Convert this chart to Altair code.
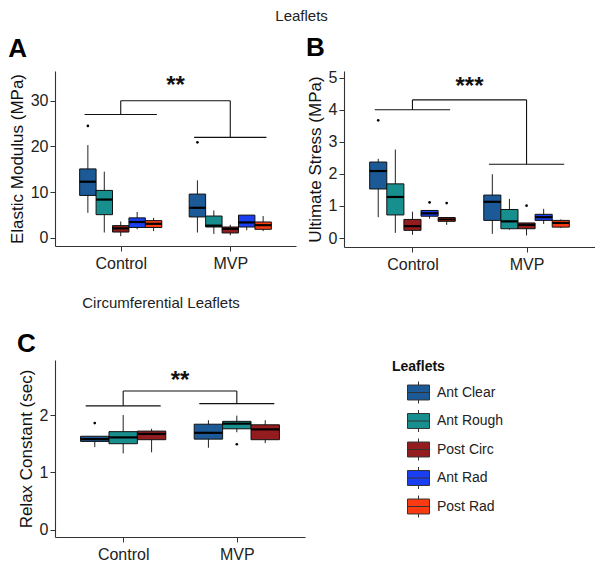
import altair as alt
import pandas as pd

groups = ["Control", "MVP"]
leaflets = ["Ant Clear", "Ant Rough", "Post Circ", "Ant Rad", "Post Rad"]
colors = ["#1c5a97", "#178f8e", "#931c1f", "#1a3ff2", "#fb3a12"]
circ_leaflets = ["Ant Clear", "Ant Rough", "Post Circ"]

# Panel A: Elastic Modulus (MPa) -- order: Control x5 leaflets, MVP x5 leaflets
a_low = [5.5, 1.2, 0.4, 1.9, 1.5, 1.2, 0.9, 0.6, 1.7, 1.5]
a_q1 = [9.3, 5.1, 1.3, 2.3, 2.3, 4.6, 2.4, 1.1, 2.4, 1.9]
a_med = [12.3, 8.4, 2.1, 3.5, 3.1, 6.6, 2.7, 2.0, 3.4, 2.8]
a_q3 = [15.1, 10.4, 2.7, 4.4, 3.8, 9.6, 4.8, 2.4, 5.0, 3.5]
a_high = [20.3, 14.5, 3.6, 5.7, 4.4, 12.6, 6.0, 2.9, 5.0, 4.8]
a_out_group = ["Control", "MVP"]
a_out_leaf = ["Ant Clear", "Ant Clear"]
a_out_val = [24.5, 20.9]
a_bracket = [27.0, 22.0, 30.0]   # control bar, MVP bar, top bar
a_star = ["**", 31.75]

# Panel B: Ultimate Stress (MPa)
b_low = [0.65, 0.16, 0.10, 0.60, 0.41, 0.13, 0.26, 0.08, 0.44, 0.31]
b_q1 = [1.53, 0.72, 0.24, 0.68, 0.52, 0.55, 0.29, 0.29, 0.55, 0.34]
b_med = [2.09, 1.28, 0.37, 0.77, 0.58, 1.13, 0.52, 0.41, 0.65, 0.47]
b_q3 = [2.37, 1.69, 0.58, 0.86, 0.64, 1.34, 0.89, 0.47, 0.74, 0.55]
b_high = [2.47, 2.76, 0.82, 0.86, 0.64, 1.99, 1.22, 0.47, 0.91, 0.58]
b_out_group = ["Control", "Control", "Control", "MVP"]
b_out_leaf = ["Ant Clear", "Ant Rad", "Post Rad", "Post Circ"]
b_out_val = [3.67, 1.11, 1.09, 1.01]
b_bracket = [4.0, 2.3, 4.31]
b_star = ["***", 4.49]

# Panel C: Relax Constant (sec) -- Control x3, MVP x3
c_low = [1.44, 1.33, 1.35, 1.43, 1.70, 1.51]
c_q1 = [1.54, 1.50, 1.57, 1.58, 1.76, 1.57]
c_med = [1.58, 1.61, 1.67, 1.69, 1.85, 1.75]
c_q3 = [1.63, 1.71, 1.72, 1.84, 1.89, 1.83]
c_high = [1.63, 2.00, 1.76, 1.91, 1.99, 1.91]
c_out_group = ["Control", "MVP"]
c_out_leaf = ["Ant Clear", "Ant Rough"]
c_out_val = [1.86, 1.49]
c_bracket = [2.16, 2.20, 2.42]
c_star = ["**", 2.47]

FONT = "Liberation Sans"
legend_path = ("M-1,-0.68L1,-0.68L1,0.68L-1,0.68Z M-1,0L1,0 "
               "M0,-0.68L0,-1 M0,0.68L0,1")

legend = alt.Legend(
    orient="none", legendX=337, legendY=289, title="Leaflets",
    titleFontSize=14, titleFontWeight="bold", titleFont=FONT, titleColor="#111",
    labelFontSize=14, labelFont=FONT, labelColor="#222",
    symbolType=legend_path, symbolSize=484, symbolStrokeColor="#333",
    symbolStrokeWidth=1, rowPadding=1.5, labelOffset=7, symbolOffset=15,
    titlePadding=7,
)
color_scale = alt.Scale(domain=leaflets, range=colors)


def panel(low, q1, med, q3, high, leafs, out_g, out_l, out_v, brk, star,
          ydom, yvals, ytitle, letter, w, h, toff):
    n = len(leafs)
    bw = 0.75 / n
    rows = []
    for gi, g in enumerate(groups):
        for li, lf in enumerate(leafs):
            k = gi * n + li
            c = gi + 1 + (li - (n - 1) / 2) * bw
            rows.append(dict(group=g, leaflet=lf, pos=c, left=c - bw / 2,
                             right=c + bw / 2, low=low[k], q1=q1[k],
                             med=med[k], q3=q3[k], high=high[k]))
    df = pd.DataFrame(rows)
    pos_map = {(r["group"], r["leaflet"]): r["pos"] for r in rows}
    odf = pd.DataFrame({"pos": [pos_map[(g, l)] for g, l in zip(out_g, out_l)],
                        "val": out_v})
    cb, mb, tb = brk
    bdf = pd.DataFrame({
        "x": [0.67, 1.67, 1.0, 2.0, 1.0],
        "x2": [1.33, 2.33, 1.0, 2.0, 2.0],
        "y": [cb, mb, cb, mb, tb],
        "y2": [cb, mb, tb, tb, tb],
    })
    sdf = pd.DataFrame({"x": [1.5], "y": [star[1]], "t": [star[0]]})

    xs = alt.Scale(domain=[0.4, 2.6], nice=False, zero=False)
    xaxis = alt.Axis(values=[1, 2], labelExpr="datum.value == 1 ? 'Control' : 'MVP'",
                     title=None, labelPadding=4)
    ys = alt.Scale(domain=ydom, nice=False, zero=False)
    yaxis = alt.Axis(values=yvals, title=ytitle)

    base = alt.Chart(df)
    whisk = base.mark_rule(color="#222", strokeWidth=1).encode(
        x=alt.X("pos:Q", scale=xs, axis=xaxis),
        y=alt.Y("low:Q", scale=ys, axis=yaxis), y2="high:Q")
    box = base.mark_rect(stroke="#111", strokeWidth=1).encode(
        x=alt.X("left:Q", scale=xs, axis=xaxis), x2="right:Q",
        y=alt.Y("q1:Q", scale=ys, axis=yaxis), y2="q3:Q",
        color=alt.Color("leaflet:N", scale=color_scale, legend=legend))
    medl = base.mark_rule(color="#000", strokeWidth=2.2).encode(
        x=alt.X("left:Q", scale=xs, axis=xaxis), x2="right:Q",
        y=alt.Y("med:Q", scale=ys, axis=yaxis))
    outl = alt.Chart(odf).mark_circle(color="#000", size=7, opacity=1).encode(
        x=alt.X("pos:Q", scale=xs, axis=xaxis),
        y=alt.Y("val:Q", scale=ys, axis=yaxis))
    brl = alt.Chart(bdf).mark_rule(color="#111", strokeWidth=1.1).encode(
        x=alt.X("x:Q", scale=xs, axis=xaxis), x2="x2:Q",
        y=alt.Y("y:Q", scale=ys, axis=yaxis), y2="y2:Q")
    stl = alt.Chart(sdf).mark_text(fontSize=24, font=FONT, fontWeight="bold",
                                   baseline="alphabetic", color="#111").encode(
        x=alt.X("x:Q", scale=xs, axis=xaxis),
        y=alt.Y("y:Q", scale=ys, axis=yaxis), text="t:N")
    return alt.layer(whisk, box, medl, outl, brl, stl).properties(
        width=w, height=h,
        title=alt.TitleParams(letter, anchor="start", frame="bounds", fontSize=26,
                              fontWeight="bold", font=FONT, color="#000", offset=toff))


pa = panel(a_low, a_q1, a_med, a_q3, a_high, leaflets, a_out_group, a_out_leaf,
           a_out_val, a_bracket, a_star, [-1.75, 36.5], [0, 10, 20, 30],
           "Elastic Modulus (MPa)", "A", 241, 175, 9)
pb = panel(b_low, b_q1, b_med, b_q3, b_high, leaflets, b_out_group, b_out_leaf,
           b_out_val, b_bracket, b_star, [-0.28, 5.21], [0, 1, 2, 3, 4, 5],
           "Ultimate Stress (MPa)", "B", 251, 176, 9)
pc = panel(c_low, c_q1, c_med, c_q3, c_high, circ_leaflets, c_out_group, c_out_leaf,
           c_out_val, c_bracket, c_star, [-0.127, 2.96], [0, 1, 2],
           "Relax Constant (sec)", "C", 250, 177, 3)

row1 = alt.hconcat(pa, pb, spacing=10).properties(
    title=alt.TitleParams("Leaflets", anchor="middle", fontSize=15, dy=-4,
                          fontWeight="normal", font=FONT, color="#222", offset=7))
row2 = alt.vconcat(pc).properties(
    title=alt.TitleParams("Circumferential Leaflets", anchor="middle", fontSize=15,
                          fontWeight="normal", font=FONT, color="#222", offset=20))

chart = alt.vconcat(row1, row2, spacing=24).properties(padding=0).configure_view(
    stroke=None
).configure_axis(
    grid=False, domainColor="#333", tickColor="#333", labelColor="#222",
    titleColor="#111", labelFont=FONT, titleFont=FONT, labelFontSize=16,
    titleFontSize=17, titleFontWeight="normal", tickSize=5, labelPadding=2,
    titlePadding=4, domainWidth=1.1
)

chart.save("out.html", embed_options={"renderer": "svg", "actions": False})
